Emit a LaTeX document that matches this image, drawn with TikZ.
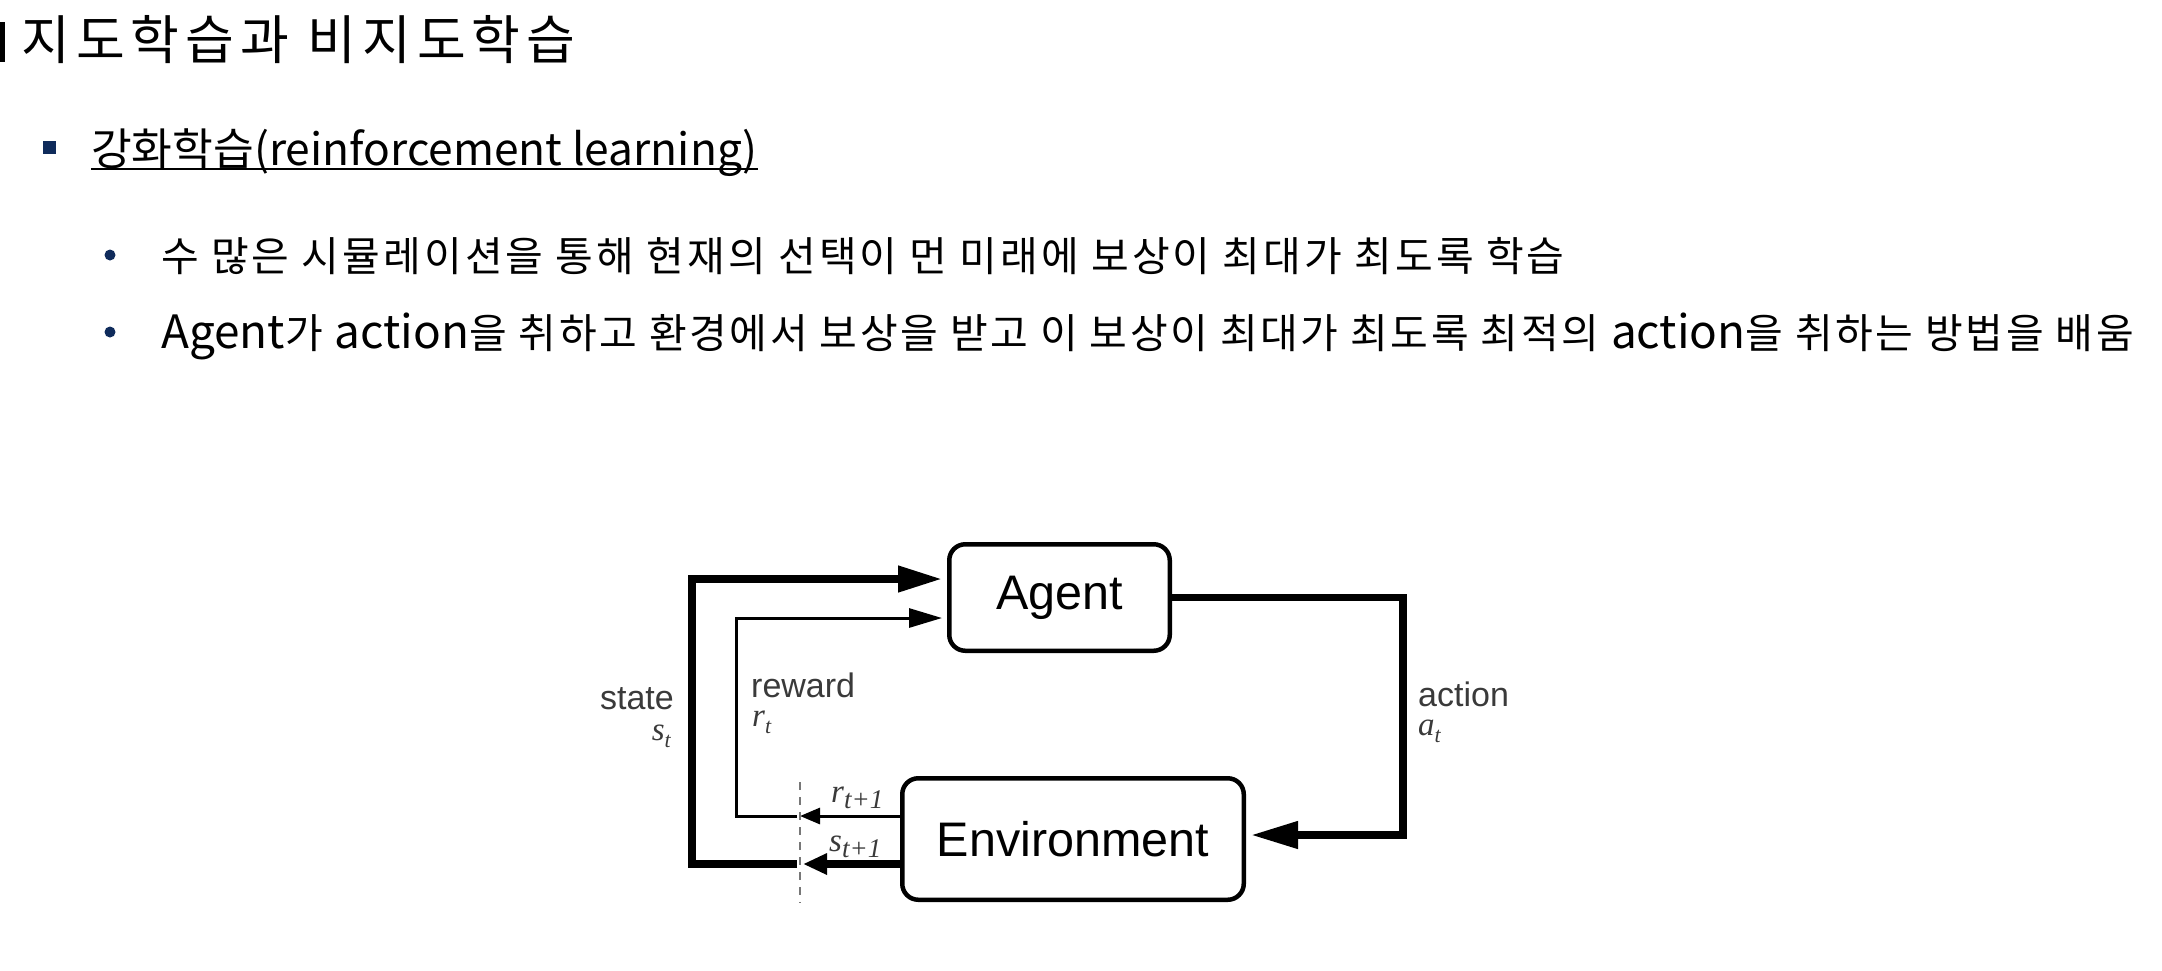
\documentclass[tikz,border=0pt]{standalone}
\usepackage{fontspec}
\setmainfont{Noto Sans CJK KR}
\newfontfamily\diagsans{Liberation Sans}
\newfontfamily\diagserif{Liberation Serif}
\usetikzlibrary{arrows.meta}
\definecolor{navy}{HTML}{0F2B5B}
\definecolor{lblgray}{HTML}{3A3A3A}
\definecolor{dashgray}{HTML}{777777}
\newcommand{\setfs}[1]{\fontsize{#1}{#1}\selectfont}
\newcommand{\latin}[1]{{\addfontfeature{LetterSpace=0,Scale=1.12}#1}}
\tikzset{
  box/.style={draw, line width=4.5pt, rounded corners=16pt, inner sep=0pt, font=\diagsans\setfs{48.5}},
  thickln/.style={line width=7.5pt},
  thinln/.style={line width=3pt},
  lbl/.style={inner sep=0pt, text=lblgray, font=\diagsans\setfs{34}},
  mathlbl/.style={inner sep=0pt, text=lblgray, font=\diagserif\itshape\setfs{33}},
  txt/.style={inner sep=0pt, anchor=base west},
  dashln/.style={line width=2pt, dashgray, dash pattern=on 8pt off 7pt}
}
\begin{document}
\begin{tikzpicture}[x=1pt,y=-1pt]
\useasboundingbox[fill=white] (0,0) rectangle (2162,970);
% heading
\fill (0,22) rectangle (5,62);
\node[txt, font=\setfs{53}\addfontfeature{LetterSpace=11.5}] (title) at (21,59) {지도학습과 비지도학습};
\fill[navy] (43,141) rectangle (56,154);
\node[txt, font=\setfs{44.3}] (sub) at (91,165) {강화학습(reinforcement learning)};
\draw[line width=2pt] ([yshift=-4pt]sub.base west) -- ([yshift=-4pt]sub.base east);
\fill[navy] (110,255) circle[radius=5.5pt];
\node[txt, font=\setfs{41}\addfontfeature{LetterSpace=7.5}] (l1) at (161,271) {수 많은 시뮬레이션을 통해 현재의 선택이 먼 미래에 보상이 최대가 최도록 학습};
\fill[navy] (110,332) circle[radius=5.5pt];
\node[txt, font=\setfs{41}\addfontfeature{LetterSpace=6.5}] (l2) at (161,348) {\latin{Agent}가 \latin{action}을 취하고 환경에서 보상을 받고 이 보상이 최대가 최도록 최적의 \latin{action}을 취하는 방법을 배움};
% diagram
\node[box, minimum width=220.5pt, minimum height=106.5pt] (agent) at (1059.5,597.5) {Agent};
\node[box, minimum width=341.5pt, minimum height=121.5pt] (env) at (1073,839) {Environment};
\coordinate (stTop) at (692,579);
\coordinate (rwTop) at (736,618);
\coordinate (sDash) at (797,864);
\coordinate (rDash) at (797,816);
\coordinate (sTip) at (803,864);
\coordinate (rTip) at (800,816);
\coordinate (actB) at (1403,835);
\coordinate (dashTop) at (800,782);
\coordinate (dashBot) at (800,903);
\draw[thickln, -{Triangle[length=44pt,width=25pt]}, shorten >=5pt] (sDash) -| (stTop) -- (stTop -| agent.west);
\draw[thinln, -{Triangle[length=33pt,width=19pt]}, shorten >=5pt] (rDash) -| (rwTop) -- (rwTop -| agent.west);
\draw[thickln, -{Triangle[length=24pt,width=20pt]}] (env.west |- sTip) -- (sTip);
\draw[thinln, -{Triangle[length=20pt,width=16pt]}] (env.west |- rTip) -- (rTip);
\draw[thickln, -{Triangle[length=47pt,width=26pt]}, shorten >=5pt] (agent.east) -| (actB) -- (actB -| env.east);
\draw[dashln] (dashTop) -- (dashBot);
% labels
\node[lbl, anchor=base east] (stateL) at (674,709) {state};
\node[mathlbl, anchor=base east] (stL) at (671,740) {s\raisebox{-7pt}{\setfs{22}t}};
\node[lbl, anchor=base west] (rewardL) at (751,697) {reward};
\node[mathlbl, anchor=base west] (rtL) at (752,726) {r\raisebox{-7pt}{\setfs{22}t}};
\node[lbl, anchor=base west] (actionL) at (1418,706) {action};
\node[mathlbl, anchor=base west] (atL) at (1418,735) {a\raisebox{-7pt}{\setfs{22}t}};
\node[mathlbl, anchor=base west] (rt1L) at (831,802) {r\raisebox{-6pt}{\setfs{27}t+1}};
\node[mathlbl, anchor=base west] (st1L) at (829,851) {s\raisebox{-6pt}{\setfs{27}t+1}};
\end{tikzpicture}
\end{document}
